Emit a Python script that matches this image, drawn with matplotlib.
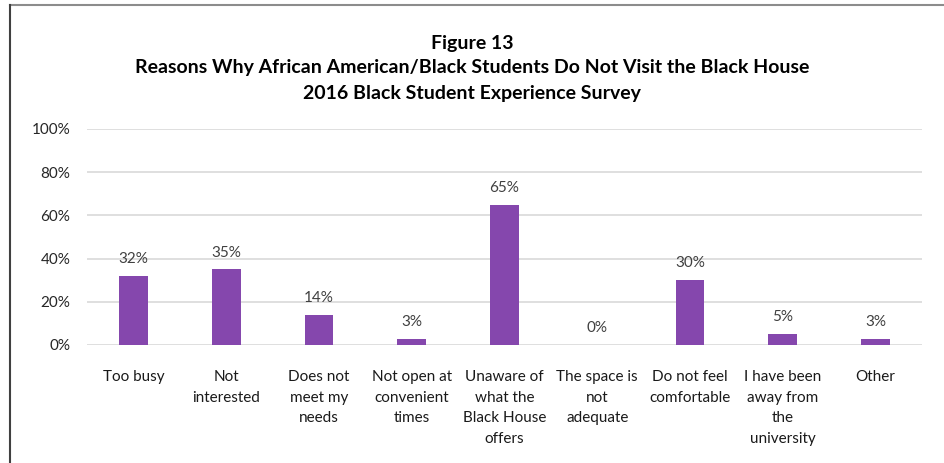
import numpy as np
import matplotlib
matplotlib.use("Agg")
import matplotlib.pyplot as plt
from matplotlib.lines import Line2D
import matplotlib.ticker as mticker

# data
categories = [
    "Too busy",
    "Not\ninterested",
    "Does not\nmeet my\nneeds",
    "Not open at\nconvenient\ntimes",
    "Unaware of\nwhat the\nBlack House\noffers",
    "The space is\nnot\nadequate",
    "Do not feel\ncomfortable",
    "I have been\naway from\nthe\nuniversity",
    "Other",
]
percent = [32, 35, 14, 3, 65, 0, 30, 5, 3]
yticks = [0, 20, 40, 60, 80, 100]

title_lines = [
    "Figure 13",
    "Reasons Why African American/Black Students Do Not Visit the Black House",
    "2016 Black Student Experience Survey",
]

plt.rcParams["font.family"] = ["Lato", "DejaVu Sans"]

W, H = 944, 463
fig = plt.figure(figsize=(W / 100, H / 100), dpi=100)
ax = fig.add_axes([87 / W, 1 - 345 / H, (922 - 87) / W, (345 - 129) / H])

x = np.arange(len(categories))
vals = np.array(percent) / 100.0
ax.bar(x, vals, width=0.31, color="#8547AD", zorder=3)

for xi, v, p in zip(x, vals, percent):
    ax.annotate(f"{p}%", (xi, v), xytext=(0, 7), textcoords="offset points",
                ha="center", va="bottom", fontsize=11, color="#404040")

ax.set_xlim(-0.5, len(categories) - 0.5)
ax.set_ylim(0, 1)
ax.set_yticks(np.array(yticks) / 100.0)
ax.yaxis.set_major_formatter(mticker.PercentFormatter(1.0, decimals=0))
ax.grid(axis="y", color="#D9D9D9", linewidth=1.2, zorder=0)
for s in ax.spines.values():
    s.set_visible(False)
ax.tick_params(axis="y", length=0, pad=12, labelsize=11, labelcolor="#262626")
ax.set_xticks(x)
ax.set_xticklabels(categories, fontsize=11, color="#1a1a1a", linespacing=1.6)
ax.tick_params(axis="x", length=0, pad=18)

for i, line in enumerate(title_lines):
    fig.text(0.5, 1 - (43 + 25 * i) / H, line, ha="center", va="center",
             fontsize=14, fontweight="bold", color="black")

# outer frame (top and left edges visible)
fig.add_artist(Line2D([10 / W, 1], [1 - 5 / H, 1 - 5 / H], transform=fig.transFigure,
                      color="#8c8c8c", linewidth=1.5))
fig.add_artist(Line2D([10 / W, 10 / W], [0, 1 - 5 / H], transform=fig.transFigure,
                      color="#404040", linewidth=1.5))

fig.savefig("out.png", dpi=100)
